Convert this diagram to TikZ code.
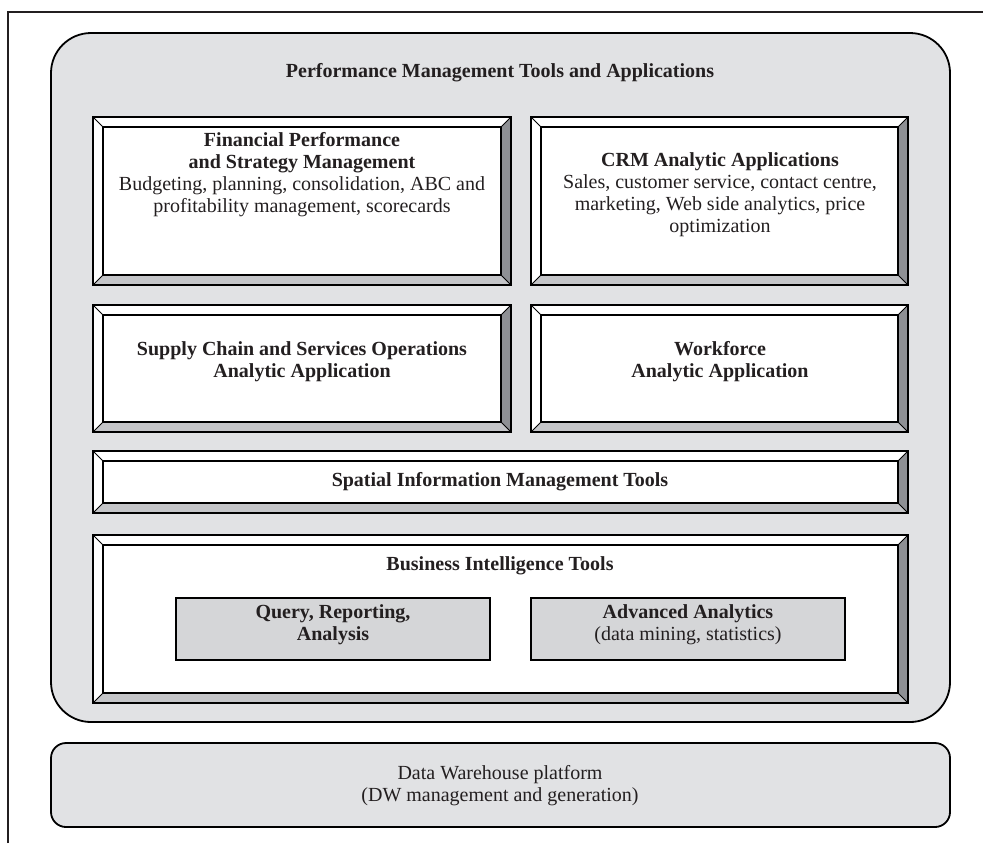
\documentclass[tikz,border=0pt]{standalone}
\usepackage{fontspec}
\setmainfont{Liberation Serif}
\usetikzlibrary{calc}
\definecolor{ink}{HTML}{231F20}
\definecolor{panel}{HTML}{E1E2E4}
\definecolor{inset}{HTML}{D5D6D8}
\definecolor{bevelside}{HTML}{8E9094}
\definecolor{bevelbase}{HTML}{C4C5C8}
\tikzset{line width=.7pt,
  every node/.style={font=\fontsize{10}{11}\selectfont,text=ink,align=center,inner sep=0pt},
  frame/.style={draw=ink,line width=.75pt},
  tray/.style={draw=black,fill=panel,line width=.9pt},
  insetbox/.style={draw=black,fill=inset,line width=.9pt},
  rim/.style={draw=black,line width=1pt},
  facet/.style={draw=black,line width=.5pt}}
% raised box: corners (x1,y1) (x2,y2), bevel 10 units wide
\newcommand{\bevelbox}[4]{%
  \fill[white] (#1,#2) rectangle (#3,#4);
  \fill[bevelside] (#3,#2)--(#3,#4)--(#3-10,#4-10)--(#3-10,#2+10)--cycle;
  \fill[bevelbase] (#1,#4)--(#3,#4)--(#3-10,#4-10)--(#1+10,#4-10)--cycle;
  \draw[facet] (#1,#2)--(#1+10,#2+10) (#3,#2)--(#3-10,#2+10)
    (#1,#4)--(#1+10,#4-10) (#3,#4)--(#3-10,#4-10);
  \draw[line width=.8pt] (#1+10,#2+10) rectangle (#3-10,#4-10);
  \draw[rim] (#1,#2) rectangle (#3,#4);}

\begin{document}
\begin{tikzpicture}[x=.5pt,y=-.5pt]
\useasboundingbox (0,0) rectangle (983,843);
\draw[frame] (8,843)--(8,12)--(983,12);
\draw[tray,rounded corners=20pt] (51,33) rectangle (950,722);
\draw[tray,rounded corners=7.5pt] (51,743) rectangle (950,827);
\node (title) at (500,73) {\textbf{Performance Management Tools and Applications}};

\bevelbox{93}{117}{511}{285}
\bevelbox{531}{117}{908}{285}
\bevelbox{93}{305}{511}{432}
\bevelbox{531}{305}{908}{432}
\bevelbox{93}{451}{908}{513}
\bevelbox{93}{535}{908}{703}

\node (fin) at (302,175) {\textbf{Financial Performance}\\\textbf{and Strategy Management}\\
  Budgeting, planning, consolidation, ABC and\\profitability management, scorecards};
\node (crm) at (720,195) {\textbf{CRM Analytic Applications}\\Sales, customer service, contact centre,\\
  marketing, Web side analytics, price\\optimization};
\node (supply) at (302,362) {\textbf{Supply Chain and Services Operations}\\\textbf{Analytic Application}};
\node (workforce) at (720,362) {\textbf{Workforce}\\\textbf{Analytic Application}};
\node (spatial) at (500,482) {\textbf{Spatial Information Management Tools}};
\node (bi) at (500,566) {\textbf{Business Intelligence Tools}};

\draw[insetbox] (176,598) rectangle (490,660);
\draw[insetbox] (531,598) rectangle (845,660);
\node (query) at (333,625) {\textbf{Query, Reporting,}\\\textbf{Analysis}};
\node (advanced) at (688,625) {\textbf{Advanced Analytics}\\(data mining, statistics)};

\node (dw) at (500,786) {Data Warehouse platform\\(DW management and generation)};
\end{tikzpicture}
\end{document}
